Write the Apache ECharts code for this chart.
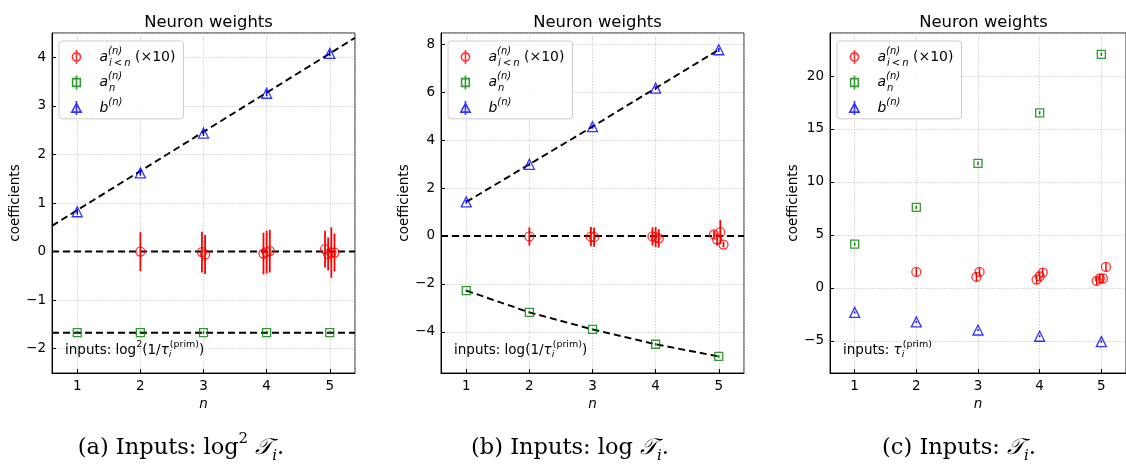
<!DOCTYPE html>
<html><head><meta charset="utf-8">
<script src="https://cdn.jsdelivr.net/npm/echarts@6/dist/echarts.min.js"></script>
<style>html,body{margin:0;padding:0;background:#fff}#c{width:1126px;height:464px}</style>
</head><body><div id="c"></div>
<script>
// ---------------- DATA ----------------
const xTickValues = [1, 2, 3, 4, 5];
const nValues = [1, 2, 3, 4, 5];
// x positions of the a_{i<n} points (slightly staggered around each n)
const aLtX = [2, 2.975, 3.025, 3.95, 4.0, 4.05, 4.925, 4.975, 5.025, 5.075];

// panel (a): inputs log^2(1/tau)
const aLtA    = [0.00, -0.01, -0.06, -0.04, -0.01, 0.01, 0.05, -0.05, -0.02, -0.02];
const aLtErrA = [0.40, 0.42, 0.40, 0.43, 0.44, 0.44, 0.38, 0.34, 0.52, 0.39];
const anA     = [-1.67, -1.67, -1.67, -1.67, -1.67];
const anErrA  = [0.03, 0.03, 0.03, 0.03, 0.03];
const bA      = [0.82, 1.62, 2.44, 3.26, 4.08];
const bErrA   = [0.06, 0.06, 0.06, 0.06, 0.06];
const fitBxA  = [0.6, 5.4];
const fitByA  = [0.53, 4.40];
const fitAnA  = [-1.67, -1.67];
const zeroX   = [0.6, 5.4];
const zeroY   = [0, 0];

// panel (b): inputs log(1/tau)
const aLtB    = [-0.02, -0.03, -0.05, -0.02, -0.05, -0.10, 0.06, -0.15, 0.16, -0.36];
const aLtErrB = [0.38, 0.40, 0.40, 0.38, 0.42, 0.38, 0.15, 0.25, 0.50, 0.12];
const anB     = [-2.28, -3.19, -3.90, -4.52, -5.03];
const anErrB  = [0.05, 0.05, 0.05, 0.05, 0.05];
const bB      = [1.42, 2.99, 4.56, 6.17, 7.77];
const bErrB   = [0.08, 0.08, 0.08, 0.08, 0.08];

// panel (c): inputs tau
const aLtC    = [1.51, 1.04, 1.51, 0.79, 1.10, 1.45, 0.66, 0.89, 0.89, 1.98];
const aLtErrC = [0.40, 0.40, 0.40, 0.40, 0.40, 0.40, 0.40, 0.40, 0.40, 0.40];
const anC     = [4.13, 7.60, 11.75, 16.53, 22.05];
const anErrC  = [0.15, 0.15, 0.15, 0.15, 0.15];
const bC      = [-2.31, -3.21, -3.97, -4.56, -5.07];
const bErrC   = [0.10, 0.10, 0.10, 0.10, 0.10];

const yRanges = [[-2.5, 4.5], [-5.72, 8.47], [-8.03, 24.06]];
const xRange = [0.6, 5.4];
const panelTitle = 'Neuron weights';
const yName = 'coefficients';
const xName = 'n';

// ---------------- LAYOUT ----------------
const gridLefts = [52, 441, 830];
const gridTop = 33, gridW = 303, gridH = 340;
const RED = '#ff0000', GREEN = '#008000', BLUE = '#0000ff';
const SANS = 'DejaVu Sans';
const SERIF = 'DejaVu Serif';
const FS = 13.5;

const fmtNum = v => String(Math.round(v * 100) / 100).replace('-', '\u2212');
const pairs = (xs, ys) => xs.map((x, i) => [x, ys[i]]);

function errSeries(xs, ys, es, color, w, gi) {
  return {
    type: 'custom', xAxisIndex: gi, yAxisIndex: gi, silent: true, z: 3,
    data: xs.map((x, i) => [x, ys[i], es[i]]),
    encode: { x: 0, y: 1 },
    renderItem: (params, api) => {
      const x = api.value(0), y = api.value(1), e = api.value(2);
      const p1 = api.coord([x, y - e]), p2 = api.coord([x, y + e]);
      return { type: 'line', shape: { x1: p1[0], y1: p1[1], x2: p2[0], y2: p2[1] },
               style: { stroke: color, lineWidth: w } };
    }
  };
}
function scatter(name, xs, ys, symbol, size, color, gi) {
  return {
    type: 'scatter', name, xAxisIndex: gi, yAxisIndex: gi, symbol, symbolSize: size, z: 4,
    itemStyle: { color: 'rgba(0,0,0,0)', borderColor: color, borderWidth: 1.3 },
    data: pairs(xs, ys), silent: true
  };
}
function fitLine(xs, ys, gi) {
  return {
    type: 'line', xAxisIndex: gi, yAxisIndex: gi, showSymbol: false, symbol: 'none', z: 2, silent: true,
    lineStyle: { color: '#000', width: 1.9, type: [7, 4] }, data: pairs(xs, ys)
  };
}

const grids = gridLefts.map(l => ({ left: l, top: gridTop, width: gridW, height: gridH,
  show: true, borderColor: '#222', borderWidth: 1, backgroundColor: 'transparent' }));

const xAxes = gridLefts.map((l, gi) => ({
  type: 'value', gridIndex: gi, min: xRange[0], max: xRange[1], splitNumber: 5,
  name: xName, nameLocation: 'middle', nameGap: 20,
  nameTextStyle: { fontFamily: SANS, fontStyle: 'italic', fontSize: FS, color: '#000' },
  axisLine: { show: true, onZero: false, lineStyle: { color: '#000', width: 1 } },
  axisTick: { show: true, inside: true, length: 4, lineStyle: { color: '#000' } },
  axisLabel: { fontFamily: SANS, fontSize: FS, color: '#000', margin: 6,
               showMinLabel: false, showMaxLabel: false, formatter: fmtNum },
  splitLine: { show: true, lineStyle: { color: '#c8c8c8', type: [1.5, 1.5], width: 0.8 } }
}));

const yAxes = gridLefts.map((l, gi) => ({
  type: 'value', gridIndex: gi, min: yRanges[gi][0], max: yRanges[gi][1], splitNumber: 7,
  name: yName, nameLocation: 'middle', nameGap: gi === 0 ? 29 : 30,
  nameTextStyle: { fontFamily: SANS, fontSize: FS, color: '#000' },
  axisLine: { show: true, onZero: false, lineStyle: { color: '#000', width: 1 } },
  axisTick: { show: true, inside: true, length: 4, lineStyle: { color: '#000' } },
  axisLabel: { fontFamily: SANS, fontSize: FS, color: '#000', margin: 6,
               showMinLabel: false, showMaxLabel: false, formatter: fmtNum },
  splitLine: { show: true, lineStyle: { color: '#c8c8c8', type: [1.5, 1.5], width: 0.8 } }
}));

const series = [
  // panel a
  fitLine(fitBxA, fitByA, 0), fitLine(zeroX, zeroY, 0), fitLine(zeroX, fitAnA, 0),
  errSeries(aLtX, aLtA, aLtErrA, RED, 1.8, 0),
  errSeries(nValues, anA, anErrA, GREEN, 1.5, 0),
  errSeries(nValues, bA, bErrA, BLUE, 1.5, 0),
  scatter('ai', aLtX, aLtA, 'circle', 9, RED, 0),
  scatter('an', nValues, anA, 'rect', 8, GREEN, 0),
  scatter('b', nValues, bA, 'triangle', 10, BLUE, 0),
  // panel b
  fitLine(nValues, bB, 1), fitLine(zeroX, zeroY, 1), fitLine(nValues, anB, 1),
  errSeries(aLtX, aLtB, aLtErrB, RED, 1.8, 1),
  errSeries(nValues, anB, anErrB, GREEN, 1.5, 1),
  errSeries(nValues, bB, bErrB, BLUE, 1.5, 1),
  scatter('ai', aLtX, aLtB, 'circle', 9, RED, 1),
  scatter('an', nValues, anB, 'rect', 8, GREEN, 1),
  scatter('b', nValues, bB, 'triangle', 10, BLUE, 1),
  // panel c
  errSeries(aLtX, aLtC, aLtErrC, RED, 1.5, 2),
  errSeries(nValues, anC, anErrC, GREEN, 1.5, 2),
  errSeries(nValues, bC, bErrC, BLUE, 1.5, 2),
  scatter('ai', aLtX, aLtC, 'circle', 9, RED, 2),
  scatter('an', nValues, anC, 'rect', 8, GREEN, 2),
  scatter('b', nValues, bC, 'triangle', 10, BLUE, 2)
];

const legendRich = {
  sp: { width: 11 },
  it: { fontFamily: SANS, fontStyle: 'italic', fontSize: 14, lineHeight: 22, color: '#000' },
  supw: { fontFamily: SANS, fontStyle: 'italic', fontSize: 10, lineHeight: 11, verticalAlign: 'top', width: 1, color: '#000' },
  sup: { fontFamily: SANS, fontStyle: 'italic', fontSize: 10, lineHeight: 11, verticalAlign: 'top', color: '#000' },
  sub: { fontFamily: SANS, fontStyle: 'italic', fontSize: 10, lineHeight: 10, verticalAlign: 'bottom', color: '#000' },
  rm: { fontFamily: SANS, fontSize: 14, lineHeight: 22, color: '#000' }
};
const legendFormatter = name => {
  if (name === 'ai') return '{sp|}{it|a}{supw|(n)}{sub|i\u2009<\u2009n}{rm| (\u00d710)}';
  if (name === 'an') return '{sp|}{it|a}{supw|(n)}{sub|n}';
  return '{sp|}{it|b}{sup|(n)}';
};
const legendData = [
  { name: 'ai', icon: 'path://M4,2.5 A3.5,3.5 0 1 1 4,9.5 A3.5,3.5 0 1 1 4,2.5 Z M4,0 L4,12',
    itemStyle: { color: 'rgba(0,0,0,0)', borderColor: RED, borderWidth: 1.6 } },
  { name: 'an', icon: 'path://M0.7,2.7 L7.3,2.7 L7.3,9.3 L0.7,9.3 Z M4,0 L4,12',
    itemStyle: { color: 'rgba(0,0,0,0)', borderColor: GREEN, borderWidth: 1.6 } },
  { name: 'b', icon: 'path://M4,2 L8,9.5 L0,9.5 Z M4,0 L4,12',
    itemStyle: { color: 'rgba(0,0,0,0)', borderColor: BLUE, borderWidth: 1.6 } }
];
const legends = gridLefts.map(l => ({
  left: l + 7, top: 41, orient: 'vertical', itemWidth: 14, itemHeight: 14, itemGap: 3.5,
  padding: [5, 8, 3, 12], backgroundColor: 'rgba(255,255,255,0.85)', borderColor: '#cccccc',
  borderWidth: 1, borderRadius: 3, selectedMode: false,
  data: legendData, formatter: legendFormatter,
  textStyle: { rich: legendRich }
}));

const titles = gridLefts.map(l => ({
  text: panelTitle, left: l + gridW / 2 - (l === 830 ? 3 : 0), top: 10, textAlign: 'center',
  textStyle: { fontFamily: SANS, fontSize: 16.4, fontWeight: 'normal', color: '#000' }
}));

const annRich = {
  t: { fontFamily: SANS, fontSize: FS, lineHeight: 20, color: '#000' },
  ti: { fontFamily: SANS, fontSize: FS, fontStyle: 'italic', lineHeight: 20, color: '#000' },
  sup: { fontFamily: SANS, fontSize: 9.5, lineHeight: 10, verticalAlign: 'top', color: '#000' },
  subw: { fontFamily: SANS, fontSize: 9.5, fontStyle: 'italic', lineHeight: 10, verticalAlign: 'bottom', width: 1, color: '#000' }
};
const annTexts = [
  '{t|inputs: log}{sup|2}{t|(1/}{ti|\u03c4}{subw|i}{sup|(prim)}{t|)}',
  '{t|inputs: log(1/}{ti|\u03c4}{subw|i}{sup|(prim)}{t|)}',
  '{t|inputs: }{ti|\u03c4}{subw|i}{sup|(prim)}'
];
const capRich = {
  m: { fontFamily: SERIF, fontSize: 22.5, lineHeight: 32, color: '#000' },
  sup: { fontFamily: SERIF, fontSize: 15, lineHeight: 20, verticalAlign: 'top', color: '#000' },
  cal: { fontFamily: SERIF, fontSize: 22.5, fontStyle: 'italic', lineHeight: 32, color: '#000' },
  sub: { fontFamily: SERIF, fontSize: 15, fontStyle: 'italic', lineHeight: 17, verticalAlign: 'bottom', color: '#000' }
};
const capTexts = [
  '{m|(a) Inputs: log}{sup|2}{m| }{cal|\ud835\udcaf}{sub|i}{m|.}',
  '{m|(b) Inputs: log }{cal|\ud835\udcaf}{sub|i}{m|.}',
  '{m|(c) Inputs: }{cal|\ud835\udcaf}{sub|i}{m|.}'
];
const capCenters = [181, 570, 959];

const graphics = [];
gridLefts.forEach((l, gi) => {
  graphics.push({ type: 'text', left: l + 13, top: 340, z: 10, silent: true,
    style: { text: annTexts[gi], rich: annRich } });
  graphics.push({ type: 'text', x: capCenters[gi], y: 448, z: 10, silent: true,
    style: { text: capTexts[gi], rich: capRich, align: 'center', verticalAlign: 'middle' } });
});

const chart = echarts.init(document.getElementById('c'), null, { renderer: 'canvas' });
chart.setOption({
  animation: false,
  backgroundColor: '#fff',
  title: titles,
  grid: grids,
  xAxis: xAxes,
  yAxis: yAxes,
  legend: legends,
  series,
  graphic: graphics
});
</script></body></html>
